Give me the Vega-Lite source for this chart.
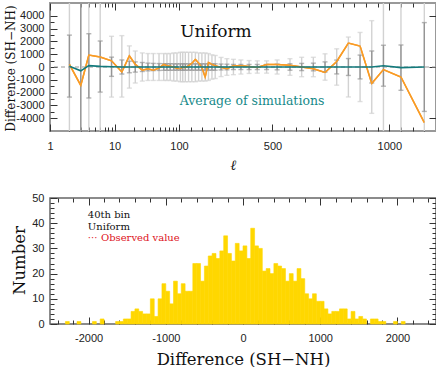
{
  "$schema": "https://vega.github.io/schema/vega-lite/v6.json",
  "padding": {"left": 2, "top": 1, "right": 2, "bottom": 2},
  "background": "white",
  "spacing": 67,
  "bounds": "flush",
  "config": {
    "axis": {"labelFont": "Liberation Sans", "labelFontSize": 11, "labelColor": "#222", "tickColor": "#333", "tickWidth": 1, "grid": false, "domain": false, "labelOverlap": "greedy", "labelSeparation": 0}
  },
  "datasets": {
    "spec": [
      {"l": 2, "obs": 200, "avg": 50, "dlo": -2350, "dhi": 2490, "llo": -9000, "lhi": 9000},
      {"l": 3, "obs": -1440, "avg": -300, "dlo": -9000, "dhi": 9000, "llo": -9000, "lhi": 9000},
      {"l": 4, "obs": 930, "avg": 110, "dlo": -2420, "dhi": 2600, "llo": -9000, "lhi": 9000},
      {"l": 6, "obs": 780, "avg": 50, "dlo": -1960, "dhi": 2030, "llo": -9000, "lhi": 9000},
      {"l": 9, "obs": 480, "avg": 20, "dlo": -730, "dhi": 770, "llo": -2350, "lhi": 2400},
      {"l": 13, "obs": -390, "avg": 0, "dlo": -550, "dhi": 550, "llo": -2350, "lhi": 2450},
      {"l": 17, "obs": 870, "avg": 0, "dlo": -450, "dhi": 450, "llo": -1650, "lhi": 1650},
      {"l": 21, "obs": 200, "avg": 0, "dlo": -400, "dhi": 400, "llo": -1250, "lhi": 1250},
      {"l": 27, "obs": -250, "avg": 0, "dlo": -350, "dhi": 350, "llo": -1100, "lhi": 1100},
      {"l": 33, "obs": -140, "avg": 0, "dlo": -300, "dhi": 300, "llo": -1050, "lhi": 1050},
      {"l": 40, "obs": -250, "avg": 0, "dlo": -280, "dhi": 280, "llo": -1050, "lhi": 1050},
      {"l": 49, "obs": -90, "avg": 0, "dlo": -270, "dhi": 270, "llo": -1050, "lhi": 1050},
      {"l": 58, "obs": 200, "avg": 0, "dlo": -260, "dhi": 260, "llo": -1050, "lhi": 1050},
      {"l": 65, "obs": 100, "avg": 0, "dlo": -260, "dhi": 260, "llo": -1050, "lhi": 1050},
      {"l": 73, "obs": 50, "avg": 0, "dlo": -260, "dhi": 260, "llo": -1050, "lhi": 1050},
      {"l": 83, "obs": 0, "avg": 0, "dlo": -250, "dhi": 250, "llo": -1100, "lhi": 1100},
      {"l": 93, "obs": -100, "avg": 0, "dlo": -250, "dhi": 250, "llo": -1100, "lhi": 1100},
      {"l": 106, "obs": -140, "avg": 0, "dlo": -250, "dhi": 250, "llo": -1150, "lhi": 1150},
      {"l": 116, "obs": 20, "avg": 0, "dlo": -250, "dhi": 250, "llo": -1150, "lhi": 1150},
      {"l": 127, "obs": -50, "avg": 0, "dlo": -250, "dhi": 250, "llo": -1150, "lhi": 1150},
      {"l": 141, "obs": 100, "avg": 0, "dlo": -250, "dhi": 250, "llo": -1150, "lhi": 1150},
      {"l": 155, "obs": 300, "avg": 0, "dlo": -250, "dhi": 250, "llo": -1150, "lhi": 1150},
      {"l": 170, "obs": 590, "avg": 0, "dlo": -250, "dhi": 250, "llo": -1150, "lhi": 1150},
      {"l": 184, "obs": 320, "avg": 0, "dlo": -250, "dhi": 250, "llo": -1100, "lhi": 1100},
      {"l": 198, "obs": -50, "avg": 0, "dlo": -250, "dhi": 250, "llo": -1100, "lhi": 1100},
      {"l": 212, "obs": -780, "avg": 0, "dlo": -250, "dhi": 250, "llo": -1100, "lhi": 1100},
      {"l": 226, "obs": 360, "avg": 0, "dlo": -250, "dhi": 250, "llo": -1050, "lhi": 1050},
      {"l": 241, "obs": 200, "avg": 0, "dlo": -250, "dhi": 250, "llo": -950, "lhi": 950},
      {"l": 255, "obs": 100, "avg": 0, "dlo": -250, "dhi": 250, "llo": -900, "lhi": 900},
      {"l": 280, "obs": -30, "avg": 0, "dlo": -230, "dhi": 230, "llo": -750, "lhi": 750},
      {"l": 305, "obs": -140, "avg": 0, "dlo": -220, "dhi": 220, "llo": -650, "lhi": 650},
      {"l": 333, "obs": 90, "avg": 0, "dlo": -200, "dhi": 200, "llo": -600, "lhi": 600},
      {"l": 365, "obs": 90, "avg": 0, "dlo": -200, "dhi": 200, "llo": -550, "lhi": 550},
      {"l": 400, "obs": 40, "avg": 0, "dlo": -200, "dhi": 200, "llo": -500, "lhi": 500},
      {"l": 435, "obs": -30, "avg": 0, "dlo": -200, "dhi": 200, "llo": -480, "lhi": 480},
      {"l": 475, "obs": 200, "avg": 0, "dlo": -200, "dhi": 200, "llo": -480, "lhi": 480},
      {"l": 520, "obs": 200, "avg": 0, "dlo": -220, "dhi": 220, "llo": -550, "lhi": 550},
      {"l": 575, "obs": 140, "avg": 0, "dlo": -250, "dhi": 250, "llo": -650, "lhi": 650},
      {"l": 625, "obs": 0, "avg": 0, "dlo": -280, "dhi": 280, "llo": -760, "lhi": 760},
      {"l": 675, "obs": -140, "avg": 0, "dlo": -300, "dhi": 300, "llo": -760, "lhi": 760},
      {"l": 725, "obs": -430, "avg": 0, "dlo": -400, "dhi": 400, "llo": -1030, "lhi": 1030},
      {"l": 775, "obs": 430, "avg": 0, "dlo": -540, "dhi": 540, "llo": -1420, "lhi": 1420},
      {"l": 825, "obs": 1870, "avg": 0, "dlo": -660, "dhi": 660, "llo": -2340, "lhi": 2340},
      {"l": 875, "obs": 1640, "avg": 0, "dlo": -930, "dhi": 930, "llo": -2700, "lhi": 2700},
      {"l": 925, "obs": -1280, "avg": 0, "dlo": -1250, "dhi": 1250, "llo": -3620, "lhi": 3620},
      {"l": 975, "obs": -200, "avg": 100, "dlo": -1500, "dhi": 1700, "llo": -9000, "lhi": 9000},
      {"l": 1050, "obs": -780, "avg": -50, "dlo": -1820, "dhi": 1720, "llo": -9000, "lhi": 9000},
      {"l": 1150, "obs": -4350, "avg": 0, "dlo": -3470, "dhi": 3470, "llo": -9000, "lhi": 9000}
    ],
    "hist": [
      {"x0": -2300, "x1": -2250, "n": 1}, {"x0": -2150, "x1": -2100, "n": 1},
      {"x0": -1950, "x1": -1900, "n": 1}, {"x0": -1850, "x1": -1800, "n": 2},
      {"x0": -1650, "x1": -1600, "n": 1}, {"x0": -1600, "x1": -1550, "n": 1},
      {"x0": -1550, "x1": -1500, "n": 2}, {"x0": -1500, "x1": -1450, "n": 2},
      {"x0": -1450, "x1": -1400, "n": 5}, {"x0": -1400, "x1": -1350, "n": 6},
      {"x0": -1350, "x1": -1300, "n": 5}, {"x0": -1300, "x1": -1250, "n": 4},
      {"x0": -1250, "x1": -1200, "n": 4}, {"x0": -1200, "x1": -1150, "n": 10},
      {"x0": -1150, "x1": -1100, "n": 3}, {"x0": -1100, "x1": -1050, "n": 10},
      {"x0": -1050, "x1": -1000, "n": 16}, {"x0": -1000, "x1": -950, "n": 13},
      {"x0": -950, "x1": -900, "n": 8}, {"x0": -900, "x1": -850, "n": 17},
      {"x0": -850, "x1": -800, "n": 12}, {"x0": -800, "x1": -750, "n": 16},
      {"x0": -750, "x1": -700, "n": 13}, {"x0": -700, "x1": -650, "n": 13},
      {"x0": -650, "x1": -600, "n": 24}, {"x0": -600, "x1": -550, "n": 24},
      {"x0": -550, "x1": -500, "n": 17}, {"x0": -500, "x1": -450, "n": 23},
      {"x0": -450, "x1": -400, "n": 27}, {"x0": -400, "x1": -350, "n": 28},
      {"x0": -350, "x1": -300, "n": 26}, {"x0": -300, "x1": -250, "n": 29},
      {"x0": -250, "x1": -200, "n": 35}, {"x0": -200, "x1": -150, "n": 28},
      {"x0": -150, "x1": -100, "n": 25}, {"x0": -100, "x1": -50, "n": 32},
      {"x0": -50, "x1": 0, "n": 29}, {"x0": 0, "x1": 50, "n": 31},
      {"x0": 50, "x1": 100, "n": 26}, {"x0": 100, "x1": 150, "n": 38},
      {"x0": 150, "x1": 200, "n": 31}, {"x0": 200, "x1": 250, "n": 30},
      {"x0": 250, "x1": 300, "n": 21}, {"x0": 300, "x1": 350, "n": 22},
      {"x0": 350, "x1": 400, "n": 20}, {"x0": 400, "x1": 450, "n": 24},
      {"x0": 450, "x1": 500, "n": 23}, {"x0": 500, "x1": 550, "n": 22},
      {"x0": 550, "x1": 600, "n": 17}, {"x0": 600, "x1": 650, "n": 20},
      {"x0": 650, "x1": 700, "n": 17}, {"x0": 700, "x1": 750, "n": 22},
      {"x0": 750, "x1": 800, "n": 18}, {"x0": 800, "x1": 850, "n": 12},
      {"x0": 850, "x1": 900, "n": 10}, {"x0": 900, "x1": 950, "n": 12},
      {"x0": 950, "x1": 1000, "n": 9}, {"x0": 1000, "x1": 1050, "n": 9},
      {"x0": 1050, "x1": 1100, "n": 6}, {"x0": 1100, "x1": 1150, "n": 4},
      {"x0": 1150, "x1": 1200, "n": 5}, {"x0": 1200, "x1": 1250, "n": 5},
      {"x0": 1250, "x1": 1300, "n": 6}, {"x0": 1300, "x1": 1350, "n": 6},
      {"x0": 1350, "x1": 1400, "n": 2}, {"x0": 1400, "x1": 1450, "n": 5},
      {"x0": 1450, "x1": 1500, "n": 2}, {"x0": 1500, "x1": 1550, "n": 3},
      {"x0": 1550, "x1": 1600, "n": 2}, {"x0": 1650, "x1": 1700, "n": 2},
      {"x0": 1700, "x1": 1750, "n": 2}, {"x0": 1750, "x1": 1800, "n": 1},
      {"x0": 1800, "x1": 1850, "n": 1}, {"x0": 1950, "x1": 2000, "n": 1},
      {"x0": 2050, "x1": 2100, "n": 1}
    ]
  },
  "vconcat": [
    {
      "width": 386,
      "height": 128,
      "view": {"stroke": "#999999", "strokeWidth": 2},
      "resolve": {"scale": {"x": "independent"}, "axis": {"x": "independent", "y": "independent"}},
      "layer": [
        {
          "data": {"name": "spec"},
          "layer": [
            {
              "transform": [{"filter": "datum.l <= 106"}],
              "mark": {"type": "line", "color": "#f99b25", "strokeWidth": 1.5, "clip": true},
              "encoding": {
                "x": {"field": "l", "type": "quantitative", "title": null,
                  "scale": {"type": "log", "domain": [1, 100], "range": [0, 129]},
                  "axis": {"orient": "bottom", "values": [1, 2, 3, 4, 5, 6, 7, 8, 9, 10, 20, 30, 40, 50, 60, 70, 80, 90, 100],
                    "labelExpr": "datum.value == 1 || datum.value == 10 || datum.value == 100 ? '' + datum.value : ''",
                    "tickSize": {"condition": {"test": "datum.value == 1 || datum.value == 10 || datum.value == 100", "value": -7}, "value": -4},
                    "labelPadding": 16, "labelFlush": false, "title": null}},
                "y": {"field": "obs", "type": "quantitative", "title": "Difference (SH−NH)",
                  "scale": {"domain": [-4380, 4400]},
                  "axis": {"orient": "left", "values": [-4000, 4000],
                    "labelExpr": "'' + datum.value",
                    "tickSize": -7, "labelPadding": 13, "labelFlush": false,
                    "titleFont": "DejaVu Serif", "titleFontSize": 12, "titleFontWeight": "normal", "titleColor": "#111",
                    "titleAngle": -90, "titleAlign": "center", "titleBaseline": "alphabetic", "titleX": -36, "titleY": 65}}
              }
            },
            {
              "mark": {"type": "rule", "stroke": "#999999", "strokeDash": [4, 3], "strokeWidth": 1},
              "data": {"values": [{"z": 0}]},
              "encoding": {"y": {"field": "z", "type": "quantitative", "title": "Difference (SH−NH)"}}
            },
            {
              "transform": [{"filter": "datum.l < 100"}],
              "mark": {"type": "errorbar", "ticks": {"size": 5}, "color": "#d2d2d2", "thickness": 1.4, "clip": true},
              "encoding": {
                "x": {"field": "l", "type": "quantitative", "title": null, "scale": {"type": "log", "domain": [1, 100], "range": [0, 129]}},
                "y": {"field": "llo", "type": "quantitative", "title": "Difference (SH−NH)"},
                "y2": {"field": "lhi"}
              }
            },
            {
              "transform": [{"filter": "datum.l < 100"}],
              "mark": {"type": "errorbar", "ticks": {"size": 5}, "color": "#959595", "thickness": 1.4, "clip": true},
              "encoding": {
                "x": {"field": "l", "type": "quantitative", "title": null, "scale": {"type": "log", "domain": [1, 100], "range": [0, 129]}},
                "y": {"field": "dlo", "type": "quantitative", "title": "Difference (SH−NH)"},
                "y2": {"field": "dhi"}
              }
            },
            {
              "transform": [{"filter": "datum.l <= 106"}],
              "mark": {"type": "line", "color": "#f99b25", "strokeWidth": 1.5, "clip": true},
              "encoding": {
                "x": {"field": "l", "type": "quantitative", "title": null, "scale": {"type": "log", "domain": [1, 100], "range": [0, 129]}},
                "y": {"field": "obs", "type": "quantitative", "title": "Difference (SH−NH)"}
              }
            },
            {
              "transform": [{"filter": "datum.l <= 106"}],
              "mark": {"type": "line", "color": "#137a7c", "strokeWidth": 1.6, "clip": true},
              "encoding": {
                "x": {"field": "l", "type": "quantitative", "title": null, "scale": {"type": "log", "domain": [1, 100], "range": [0, 129]}},
                "y": {"field": "avg", "type": "quantitative", "title": "Difference (SH−NH)"}
              }
            }
          ]
        },
        {
          "data": {"name": "spec"},
          "layer": [
            {
              "transform": [{"filter": "datum.l >= 106"}],
              "mark": {"type": "line", "color": "#f99b25", "strokeWidth": 1.5, "clip": true},
              "encoding": {
                "x": {"field": "l", "type": "quantitative", "title": "ℓ",
                  "scale": {"domain": [100, 1200], "range": [129, 386], "zero": false, "nice": false},
                  "axis": {"orient": "bottom", "values": [500, 1000],
                    "labelExpr": "'' + datum.value",
                    "tickSize": -7, "labelPadding": 16, "labelFlush": false, "labelOverlap": false,
                    "titleFont": "DejaVu Serif", "titleFontStyle": "italic", "titleFontSize": 14, "titleFontWeight": "normal", "titleColor": "#111",
                    "titleAlign": "center", "titleBaseline": "alphabetic", "titleX": 183, "titleY": 38}},
                "y": {"field": "obs", "type": "quantitative", "title": null,
                  "axis": {"orient": "right", "values": [-4000, -3500, -3000, -2500, -2000, -1500, -1000, -500, 0, 500, 1000, 1500, 2000, 2500, 3000, 3500, 4000],
                    "labels": false, "title": null,
                    "tickSize": {"condition": {"test": "datum.value % 1000 == 0", "value": -7}, "value": -4}}}
              }
            },
            {
              "transform": [{"filter": "datum.l >= 100"}],
              "mark": {"type": "errorbar", "ticks": {"size": 5}, "color": "#d2d2d2", "thickness": 1.4, "clip": true},
              "encoding": {
                "x": {"field": "l", "type": "quantitative", "title": "ℓ", "scale": {"domain": [100, 1200], "range": [129, 386], "zero": false, "nice": false}},
                "y": {"field": "llo", "type": "quantitative", "title": null},
                "y2": {"field": "lhi"}
              }
            },
            {
              "transform": [{"filter": "datum.l >= 100"}],
              "mark": {"type": "errorbar", "ticks": {"size": 5}, "color": "#959595", "thickness": 1.4, "clip": true},
              "encoding": {
                "x": {"field": "l", "type": "quantitative", "title": "ℓ", "scale": {"domain": [100, 1200], "range": [129, 386], "zero": false, "nice": false}},
                "y": {"field": "dlo", "type": "quantitative", "title": null},
                "y2": {"field": "dhi"}
              }
            },
            {
              "transform": [{"filter": "datum.l >= 106"}],
              "mark": {"type": "line", "color": "#f99b25", "strokeWidth": 1.5, "clip": true},
              "encoding": {
                "x": {"field": "l", "type": "quantitative", "title": "ℓ", "scale": {"domain": [100, 1200], "range": [129, 386], "zero": false, "nice": false}},
                "y": {"field": "obs", "type": "quantitative", "title": null}
              }
            },
            {
              "transform": [{"filter": "datum.l >= 106"}],
              "mark": {"type": "line", "color": "#137a7c", "strokeWidth": 1.6, "clip": true},
              "encoding": {
                "x": {"field": "l", "type": "quantitative", "title": "ℓ", "scale": {"domain": [100, 1200], "range": [129, 386], "zero": false, "nice": false}},
                "y": {"field": "avg", "type": "quantitative", "title": null}
              }
            },
            {
              "data": {"values": [{"l": 105, "v": 2370, "t": "Uniform"}]},
              "mark": {"type": "text", "font": "DejaVu Serif", "fontSize": 17, "color": "#111", "align": "left", "baseline": "alphabetic"},
              "encoding": {
                "x": {"field": "l", "type": "quantitative", "title": "ℓ", "scale": {"domain": [100, 1200], "range": [129, 386], "zero": false, "nice": false}},
                "y": {"field": "v", "type": "quantitative", "title": null},
                "text": {"field": "t"}
              }
            },
            {
              "data": {"values": [{"l": 103, "v": -2990, "t": "Average of simulations"}]},
              "mark": {"type": "text", "font": "DejaVu Serif", "fontSize": 12.5, "color": "#178a8a", "align": "left", "baseline": "alphabetic"},
              "encoding": {
                "x": {"field": "l", "type": "quantitative", "title": "ℓ", "scale": {"domain": [100, 1200], "range": [129, 386], "zero": false, "nice": false}},
                "y": {"field": "v", "type": "quantitative", "title": null},
                "text": {"field": "t"}
              }
            }
          ]
        },
        {
          "data": {"name": "spec"},
          "transform": [{"filter": "datum.l < 100"}],
          "mark": {"type": "point", "opacity": 0},
          "encoding": {
            "x": {"field": "l", "type": "quantitative", "title": null,
              "scale": {"type": "log", "domain": [1, 100], "range": [0, 129]},
              "axis": {"orient": "top", "values": [1, 2, 3, 4, 5, 6, 7, 8, 9, 10, 20, 30, 40, 50, 60, 70, 80, 90, 100], "labels": false, "title": null,
                "tickSize": {"condition": {"test": "datum.value == 1 || datum.value == 10 || datum.value == 100", "value": -7}, "value": -4}}},
            "y": {"field": "obs", "type": "quantitative", "title": null,
              "axis": {"orient": "left", "values": [-3500, -2500, -1500, -500, 500, 1500, 2500, 3500], "labels": false, "title": null, "tickSize": -4}}
          }
        },
        {
          "data": {"name": "spec"},
          "transform": [{"filter": "datum.l >= 100"}],
          "mark": {"type": "point", "opacity": 0},
          "encoding": {
            "x": {"field": "l", "type": "quantitative", "title": null,
              "scale": {"domain": [100, 1200], "range": [129, 386], "zero": false, "nice": false},
              "axis": {"orient": "top", "values": [150, 200, 250, 300, 350, 400, 450, 500, 550, 600, 650, 700, 750, 800, 850, 900, 950, 1000, 1050, 1100, 1150], "labels": false, "title": null,
                "tickSize": {"condition": {"test": "datum.value == 500 || datum.value == 1000", "value": -7}, "value": -4}}},
            "y": {"field": "obs", "type": "quantitative", "title": null,
              "axis": {"orient": "left", "values": [-3000, 3000], "labelExpr": "'' + datum.value", "tickSize": -7, "labelPadding": 13, "labelFlush": false, "title": null}}
          }
        },
        {
          "data": {"name": "spec"},
          "transform": [{"filter": "datum.l >= 100"}],
          "mark": {"type": "point", "opacity": 0},
          "encoding": {
            "x": {"field": "l", "type": "quantitative", "title": null,
              "scale": {"domain": [100, 1200], "range": [129, 386], "zero": false, "nice": false},
              "axis": {"orient": "bottom", "values": [150, 200, 250, 300, 350, 400, 450, 550, 600, 650, 700, 750, 800, 850, 900, 950, 1050, 1100, 1150], "labels": false, "title": null, "tickSize": -4}},
            "y": {"field": "obs", "type": "quantitative", "title": null,
              "axis": {"orient": "left", "values": [-2000, 2000], "labelExpr": "'' + datum.value", "tickSize": -7, "labelPadding": 13, "labelFlush": false, "title": null}}
          }
        },
        {
          "data": {"name": "spec"},
          "mark": {"type": "point", "opacity": 0},
          "encoding": {
            "y": {"field": "obs", "type": "quantitative", "title": null,
              "axis": {"orient": "left", "values": [-1000, 1000], "labelExpr": "'' + datum.value", "tickSize": -7, "labelPadding": 13, "labelFlush": false, "title": null}}
          }
        },
        {
          "data": {"name": "spec"},
          "mark": {"type": "point", "opacity": 0},
          "encoding": {
            "y": {"field": "obs", "type": "quantitative", "title": null,
              "axis": {"orient": "left", "values": [0], "labelExpr": "'' + datum.value", "tickSize": -7, "labelPadding": 13, "labelFlush": false, "title": null}}
          }
        }
      ]
    },
    {
      "width": 386,
      "height": 126,
      "view": {"stroke": "#666666", "strokeWidth": 1.5},
      "resolve": {"axis": {"x": "independent", "y": "independent"}},
      "layer": [
        {
          "data": {"name": "hist"},
          "mark": {"type": "bar", "color": "#ffd700", "stroke": "#ffd700", "strokeWidth": 0.6},
          "encoding": {
            "x": {"field": "x0", "type": "quantitative", "title": "Difference (SH−NH)",
              "scale": {"domain": [-2500, 2500], "nice": false, "zero": false},
              "axis": {"orient": "bottom", "values": [-2400, -2200, -2000, -1800, -1600, -1400, -1200, -1000, -800, -600, -400, -200, 0, 200, 400, 600, 800, 1000, 1200, 1400, 1600, 1800, 2000, 2200, 2400],
                "labelExpr": "datum.value == 0 || datum.value == 1000 || datum.value == 2000 || datum.value == -1000 || datum.value == -2000 ? '' + datum.value : ''",
                "tickSize": {"condition": {"test": "datum.value % 1000 == 0", "value": -7}, "value": -4},
                "labelPadding": 15, "labelFlush": false,
                "titleFont": "DejaVu Serif", "titleFontSize": 16.5, "titleFontWeight": "normal", "titleColor": "#111",
                "titleAlign": "center", "titleBaseline": "alphabetic", "titleX": 193, "titleY": 40}},
            "x2": {"field": "x1"},
            "y": {"field": "n", "type": "quantitative", "title": "Number",
              "scale": {"domain": [0, 50], "nice": false},
              "axis": {"orient": "left", "values": [0, 2, 4, 6, 8, 10, 12, 14, 16, 18, 20, 22, 24, 26, 28, 30, 32, 34, 36, 38, 40, 42, 44, 46, 48, 50],
                "labelExpr": "datum.value == 0 || datum.value == 10 || datum.value == 20 || datum.value == 30 || datum.value == 40 || datum.value == 50 ? '' + datum.value : ''",
                "tickSize": {"condition": {"test": "datum.value % 10 == 0", "value": -7}, "value": -4},
                "labelPadding": 13, "labelFlush": false,
                "titleFont": "DejaVu Serif", "titleFontSize": 16.5, "titleFontWeight": "normal", "titleColor": "#111",
                "titleAngle": -90, "titleAlign": "center", "titleBaseline": "alphabetic", "titleX": -25.5, "titleY": 62}},
            "y2": {"datum": 0}
          }
        },
        {
          "mark": {"type": "rule", "stroke": "#e8343c", "strokeDash": [2, 2], "strokeWidth": 1.3},
          "encoding": {"x": {"datum": 1900, "type": "quantitative",
            "axis": {"orient": "top", "values": [-2400, -2200, -2000, -1800, -1600, -1400, -1200, -1000, -800, -600, -400, -200, 0, 200, 400, 600, 800, 1000, 1200, 1400, 1600, 1800, 2000, 2200, 2400],
              "labels": false, "title": null,
              "tickSize": {"condition": {"test": "datum.value % 1000 == 0", "value": -7}, "value": -4}}}}
        },
        {
          "data": {"values": [{"x": -2010, "y": 41.9, "t": "40th bin"}, {"x": -2010, "y": 37.5, "t": "Uniform"}]},
          "mark": {"type": "text", "font": "DejaVu Serif", "fontSize": 10, "color": "#111", "align": "left", "baseline": "alphabetic"},
          "encoding": {
            "x": {"field": "x", "type": "quantitative", "axis": null},
            "y": {"field": "y", "type": "quantitative",
              "axis": {"orient": "right", "values": [0, 2, 4, 6, 8, 10, 12, 14, 16, 18, 20, 22, 24, 26, 28, 30, 32, 34, 36, 38, 40, 42, 44, 46, 48, 50],
                "labels": false, "title": null,
                "tickSize": {"condition": {"test": "datum.value % 10 == 0", "value": -7}, "value": -4}}},
            "text": {"field": "t"}
          }
        },
        {
          "data": {"values": [{"x": -2010, "y": 33.1, "t": "···"}, {"x": -1840, "y": 33.1, "t": "Observed value"}]},
          "mark": {"type": "text", "font": "DejaVu Serif", "fontSize": 10, "color": "#dd1122", "align": "left", "baseline": "alphabetic"},
          "encoding": {
            "x": {"field": "x", "type": "quantitative", "axis": null},
            "y": {"field": "y", "type": "quantitative", "axis": null},
            "text": {"field": "t"}
          }
        }
      ]
    }
  ]
}
